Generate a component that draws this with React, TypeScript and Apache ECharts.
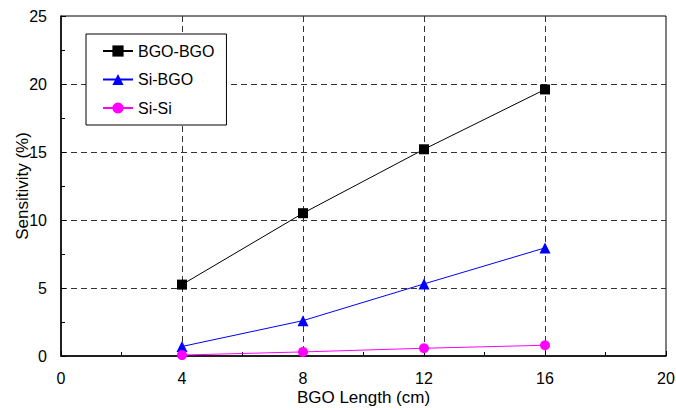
import React, { useEffect, useRef } from "react";
import * as echarts from "echarts";

const lengths = [4, 8, 12, 16];
const bgoBgo = [5.25, 10.5, 15.2, 19.6];
const siBgo = [0.7, 2.6, 5.3, 7.95];
const siSi = [0.07, 0.3, 0.57, 0.79];
const seriesNames = ["BGO-BGO", "Si-BGO", "Si-Si"];

const FONT = "'Liberation Sans', Arial, Helvetica, sans-serif";

export default function App() {
  const ref = useRef<HTMLDivElement>(null);
  useEffect(() => {
    if (!ref.current) return;
    const chart = echarts.init(ref.current, null, { renderer: "svg" });
    const pair = (ys: number[]) => lengths.map((x, i) => [x, ys[i]]);
    const axisCommon = {
      type: "value" as const,
      nameLocation: "middle" as const,
      nameMoveOverlap: false,
      nameTextStyle: { fontSize: 17, color: "#000", fontFamily: FONT },
      axisLine: { show: true, lineStyle: { color: "#000", width: 1.5 } },
      axisTick: { show: true, inside: true, length: 5, lineStyle: { color: "#000" } },
      minorTick: { show: true, splitNumber: 2, length: 4, lineStyle: { color: "#000" } },
      axisLabel: { fontSize: 16, color: "#000", fontFamily: FONT },
      splitLine: {
        show: true,
        showMinLine: false,
        showMaxLine: false,
        lineStyle: { color: "#333", type: [6, 4], width: 1 },
      },
    };
    chart.setOption({
      animation: false,
      backgroundColor: "#fff",
      textStyle: { fontFamily: FONT },
      grid: {
        left: 61,
        right: 10,
        top: 16,
        bottom: 54,
        outerBoundsMode: "none",
        containLabel: false,
        show: true,
        borderColor: "#000",
        borderWidth: 1,
      },
      legend: {
        orient: "vertical",
        left: 86,
        top: 34,
        data: seriesNames,
        backgroundColor: "#fff",
        borderColor: "#000",
        borderWidth: 1,
        padding: [9, 12, 9, 16],
        itemWidth: 30,
        itemHeight: 14,
        itemGap: 12.5,
        textStyle: { fontSize: 16, color: "#000", fontFamily: FONT },
      },
      xAxis: {
        ...axisCommon,
        min: 0,
        max: 20,
        interval: 4,
        name: "BGO Length (cm)",
        nameGap: 33,
        axisLabel: { ...axisCommon.axisLabel, margin: 14 },
      },
      yAxis: {
        ...axisCommon,
        min: 0,
        max: 25,
        interval: 5,
        name: "Sensitivity (%)",
        nameGap: 30,
        axisLabel: { ...axisCommon.axisLabel, margin: 14 },
      },
      series: [
        {
          name: seriesNames[0],
          type: "line",
          data: pair(bgoBgo),
          symbol: "rect",
          symbolSize: 10,
          itemStyle: { color: "#000" },
          lineStyle: { color: "#000", width: 1 },
        },
        {
          name: seriesNames[1],
          type: "line",
          data: pair(siBgo),
          symbol: "triangle",
          symbolSize: 11,
          itemStyle: { color: "#0000ff" },
          lineStyle: { color: "#0000ff", width: 1 },
        },
        {
          name: seriesNames[2],
          type: "line",
          data: pair(siSi),
          symbol: "circle",
          symbolSize: 10,
          itemStyle: { color: "#ff00ff" },
          lineStyle: { color: "#ff00ff", width: 1 },
        },
      ],
    });
    return () => chart.dispose();
  }, []);
  return (
    <div
      ref={ref}
      style={{ position: "fixed", left: 0, top: 0, width: 676, height: 410 }}
    />
  );
}
